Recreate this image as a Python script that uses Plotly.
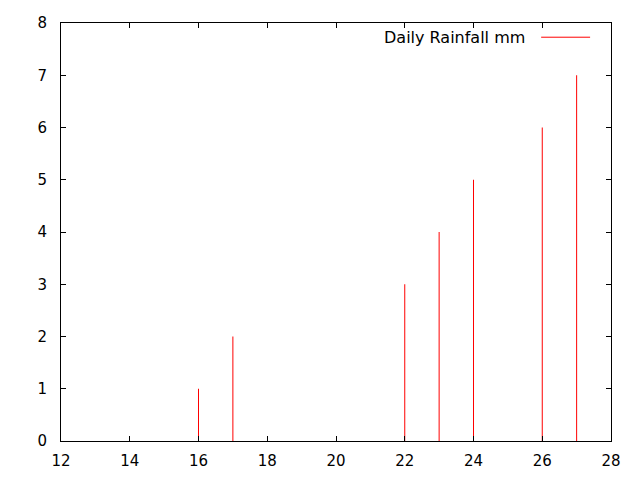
import plotly.graph_objects as go

days = [16, 17, 22, 23, 24, 26, 27]
rainfall_mm = [1, 2, 3, 4, 5, 6, 7]
series_name = "Daily Rainfall mm"

# impulses: one vertical segment per day, separated by None
xs, ys = [], []
for d, r in zip(days, rainfall_mm):
    xs += [d, d, None]
    ys += [0, r, None]

fig = go.Figure()
fig.add_trace(go.Scatter(x=xs, y=ys, mode="lines", name=series_name,
                         line=dict(color="red", width=1), showlegend=False))

# gnuplot-style key: text then line sample
fig.add_annotation(xref="paper", yref="paper", x=0.847, y=0.966,
                   xanchor="right", yanchor="middle", text=series_name,
                   showarrow=False, font=dict(size=16, color="black"))
fig.add_shape(type="line", xref="paper", yref="paper",
              x0=0.873, x1=0.962, y0=0.966, y1=0.966,
              line=dict(color="red", width=1))

axis = dict(showline=True, linecolor="black", linewidth=1, mirror="ticks",
            ticks="inside", ticklen=5, tickcolor="black", showgrid=False,
            zeroline=False, tickfont=dict(size=15, color="black"))
fig.update_xaxes(range=[12, 28], dtick=2, ticklabelstandoff=6, **axis)
fig.update_yaxes(range=[0, 8], dtick=1, ticklabelstandoff=10, **axis)

# page adds an 8px body margin, so offsets are reduced accordingly
fig.update_layout(width=640, height=480, plot_bgcolor="white",
                  paper_bgcolor="white",
                  font=dict(family="DejaVu Sans", size=15, color="black"),
                  margin=dict(l=53, r=37, t=15, b=47, autoexpand=False))

fig.write_html("out.html")
